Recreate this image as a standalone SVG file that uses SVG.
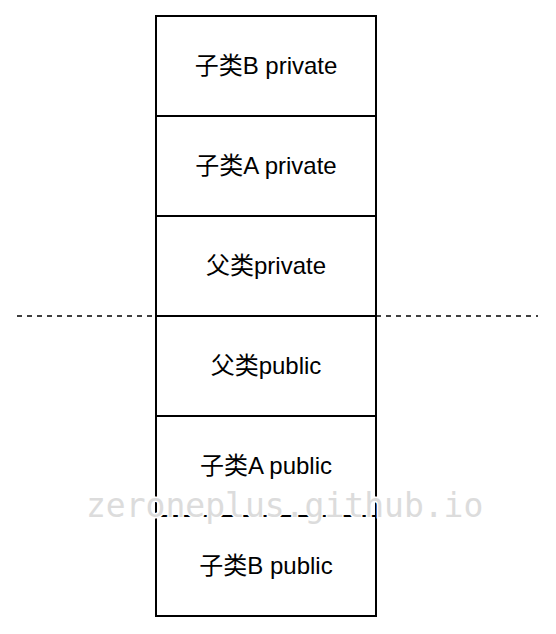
<svg xmlns="http://www.w3.org/2000/svg" width="556" height="634" viewBox="0 0 556 634">
<style>
.box{fill:#fff;stroke:#000;stroke-width:2}
.lbl{font-family:"Liberation Sans","Noto Sans CJK SC",sans-serif;font-size:24px;fill:#000;text-anchor:middle}
.sep{stroke:#000;stroke-width:1.5;stroke-dasharray:5 5;fill:none}
.wm{font-family:"DejaVu Sans Mono",monospace;font-size:33px;fill:#dcdcdc;stroke:#fff;stroke-width:3;paint-order:stroke}
</style>
<rect width="556" height="634" fill="#fff"/>
<g id="node-b-private"><rect class="box" x="156" y="16" width="220" height="100"/><text class="lbl" x="266" y="74">子类B private</text></g>
<g id="node-a-private"><rect class="box" x="156" y="116" width="220" height="100"/><text class="lbl" x="266" y="174">子类A private</text></g>
<g id="node-parent-private"><rect class="box" x="156" y="216" width="220" height="100"/><text class="lbl" x="266" y="274">父类private</text></g>
<g id="node-parent-public"><rect class="box" x="156" y="316" width="220" height="100"/><text class="lbl" x="266" y="374">父类public</text></g>
<g id="node-a-public"><rect class="box" x="156" y="416" width="220" height="100"/><text class="lbl" x="266" y="474">子类A public</text></g>
<g id="node-b-public"><rect class="box" x="156" y="516" width="220" height="100"/><text class="lbl" x="266" y="574">子类B public</text></g>
<g id="connectors">
<line class="sep" x1="17" y1="316" x2="156" y2="316"/>
<line class="sep" x1="376" y1="316" x2="538" y2="316"/>
</g>
<g id="watermark"><text class="wm" x="86" y="517">zeroneplus.github.io</text></g>
</svg>
